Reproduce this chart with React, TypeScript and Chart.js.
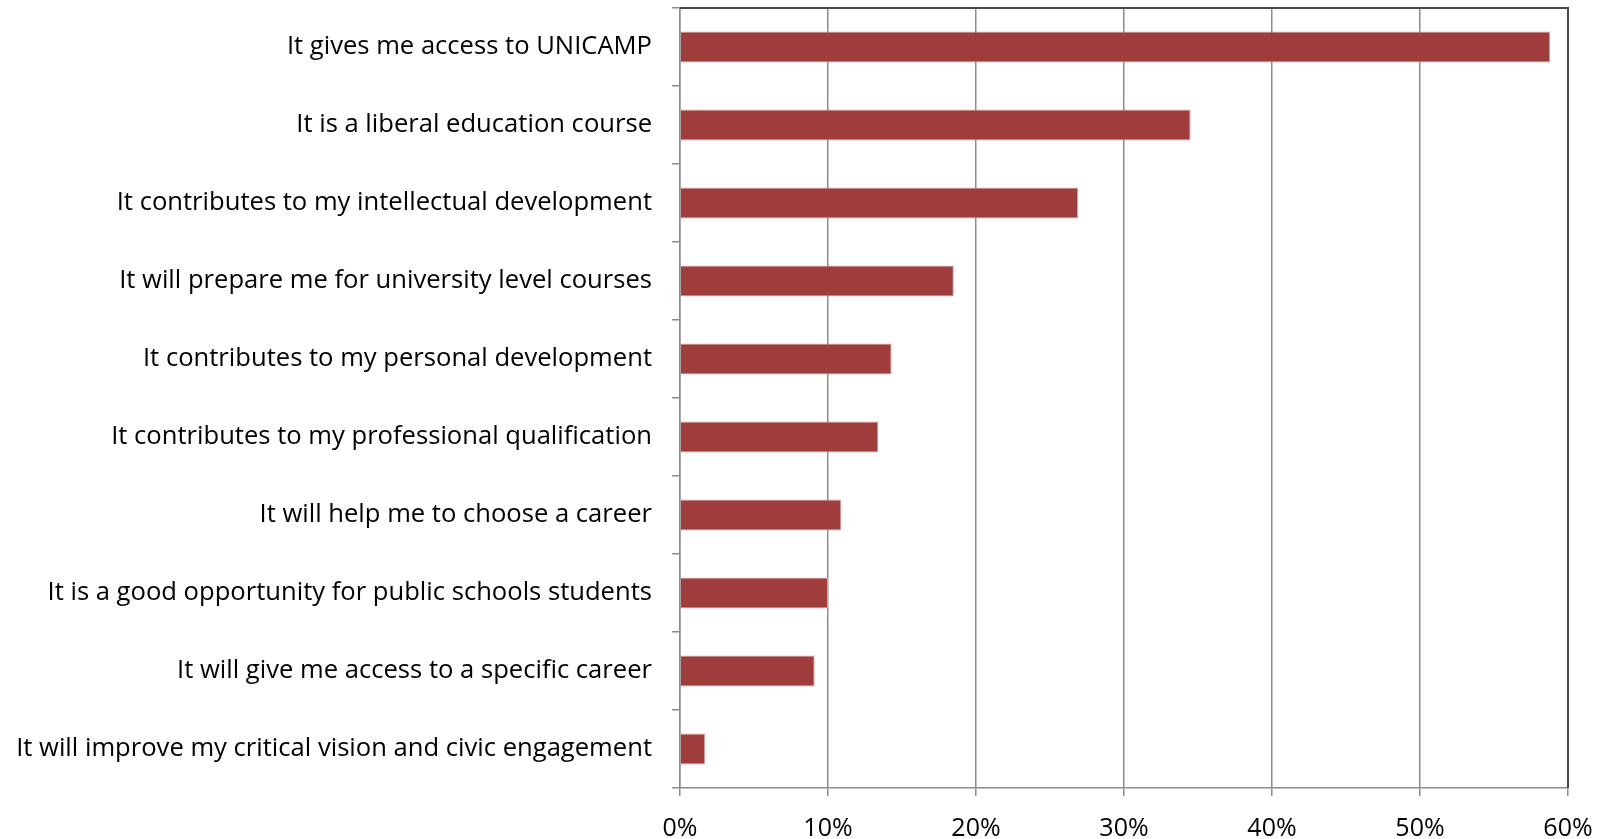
import React, { useEffect, useRef } from "react";
import { Chart, registerables } from "chart.js";

Chart.register(...registerables);

const categories = [
  "It gives me access to UNICAMP",
  "It is a liberal education course",
  "It contributes to my intellectual development",
  "It will prepare me for university level courses",
  "It contributes to my personal development",
  "It contributes to my professional qualification",
  "It will help me to choose a career",
  "It is a good opportunity for public schools students",
  "It will give me access to a specific career",
  "It will improve my critical vision and civic engagement",
];

const values = [58.8, 34.5, 26.9, 18.5, 14.3, 13.4, 10.9, 10.0, 9.1, 1.7];

const xTicks = [0, 10, 20, 30, 40, 50, 60];

const FONT = "'Open Sans', 'Noto Sans', sans-serif";

const frame = {
  id: "frame",
  afterDraw(chart: any) {
    const { ctx, chartArea } = chart;
    ctx.save();
    ctx.strokeStyle = "#4a4a4a";
    ctx.lineWidth = 2;
    ctx.beginPath();
    ctx.moveTo(chartArea.left, chartArea.top);
    ctx.lineTo(chartArea.right, chartArea.top);
    ctx.lineTo(chartArea.right, chartArea.bottom);
    ctx.stroke();
    ctx.restore();
  },
};

export default function App() {
  const ref = useRef<HTMLCanvasElement>(null);

  useEffect(() => {
    const chart = new Chart(ref.current!, {
      type: "bar",
      data: {
        labels: categories,
        datasets: [
          {
            data: values,
            backgroundColor: "#9f3d3d",
            borderColor: "#d8a0a0",
            borderWidth: 1,
            barPercentage: 0.8,
            categoryPercentage: 0.5,
          },
        ],
      },
      options: {
        indexAxis: "y",
        animation: false,
        responsive: false,
        maintainAspectRatio: false,
        layout: { padding: { left: 0, right: 39, top: 8, bottom: 0 } },
        plugins: { legend: { display: false }, tooltip: { enabled: false } },
        scales: {
          x: {
            min: 0,
            max: 60,
            afterBuildTicks: (scale: any) => {
              scale.ticks = xTicks.map((v) => ({ value: v }));
            },
            afterFit: (scale: any) => {
              scale.height = 51;
              scale.paddingLeft = 0;
              scale.paddingRight = 0;
            },
            ticks: {
              callback: (v: any) => v + "%",
              color: "#000",
              font: { family: FONT, size: 25 },
              padding: 18,
              maxRotation: 0,
            },
            grid: {
              color: "#8c8c8c",
              lineWidth: 1.5,
              tickLength: 8,
              drawTicks: true,
            },
            border: { color: "#8c8c8c", width: 1.5 },
          },
          y: {
            afterFit: (scale: any) => {
              scale.width = 680;
              scale.paddingTop = 0;
              scale.paddingBottom = 0;
            },
            ticks: {
              color: "#000",
              font: { family: FONT, size: 25.6 },
              padding: 20,
            },
            grid: {
              offset: true,
              drawOnChartArea: false,
              color: "#8c8c8c",
              lineWidth: 1.5,
              tickLength: 8,
            },
            border: { color: "#8c8c8c", width: 1.5 },
          },
        },
      },
      plugins: [frame],
    });
    return () => chart.destroy();
  }, []);

  return (
    <div style={{ position: "fixed", left: 0, top: 0, width: 1607, height: 839, background: "#fff" }}>
      <canvas ref={ref} width={1607} height={839} style={{ display: "block" }} />
    </div>
  );
}
